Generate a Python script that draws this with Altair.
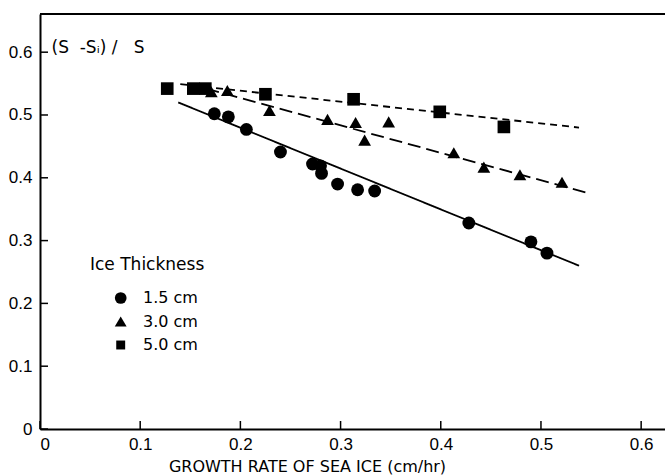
import altair as alt
import pandas as pd

TICK_FONT = "Liberation Sans, DejaVu Sans"
TEXT_FONT = "DejaVu Sans"

# Ice thickness groups and their symbols
series_labels = ["1.5 cm", "3.0 cm", "5.0 cm"]
series_shapes = ["circle", "triangle-up", "square"]

# Measured points: growth rate (cm/hr) vs (S - Si)/S
rate_15 = [0.174, 0.188, 0.206, 0.240, 0.272, 0.280, 0.281, 0.297, 0.317, 0.334, 0.428, 0.490, 0.506]
ratio_15 = [0.502, 0.497, 0.477, 0.441, 0.422, 0.419, 0.407, 0.390, 0.381, 0.379, 0.328, 0.298, 0.280]

rate_30 = [0.171, 0.187, 0.229, 0.287, 0.315, 0.324, 0.348, 0.413, 0.443, 0.479, 0.521]
ratio_30 = [0.537, 0.539, 0.507, 0.493, 0.488, 0.460, 0.489, 0.440, 0.417, 0.405, 0.393]

rate_50 = [0.127, 0.153, 0.165, 0.225, 0.313, 0.399, 0.463]
ratio_50 = [0.542, 0.542, 0.542, 0.533, 0.525, 0.505, 0.481]

# Fitted straight lines (start / end points)
fit_rate_15 = [0.138, 0.538]
fit_ratio_15 = [0.520, 0.260]
fit_rate_30 = [0.166, 0.546]
fit_ratio_30 = [0.542, 0.376]
fit_rate_50 = [0.140, 0.538]
fit_ratio_50 = [0.549, 0.480]

x_ticks = [0, 0.1, 0.2, 0.3, 0.4, 0.5, 0.6]
y_ticks = [0, 0.1, 0.2, 0.3, 0.4, 0.5, 0.6]

X_MAX = 0.6238
Y_MAX = 0.6608
W, H = 625, 415


def group(rates, ratios, label):
    return pd.DataFrame({"rate": rates, "ratio": ratios, "thickness": label, "grp": label})


points = pd.concat([
    group(rate_15, ratio_15, series_labels[0]),
    group(rate_30, ratio_30, series_labels[1]),
    group(rate_50, ratio_50, series_labels[2]),
], ignore_index=True)

fits = pd.concat([
    group(fit_rate_15, fit_ratio_15, series_labels[0]),
    group(fit_rate_30, fit_ratio_30, series_labels[1]),
    group(fit_rate_50, fit_ratio_50, series_labels[2]),
], ignore_index=True)

x_scale = alt.Scale(domain=[0, X_MAX], nice=False)
y_scale = alt.Scale(domain=[0, Y_MAX], nice=False)

x_axis = alt.Axis(
    values=x_ticks, format=".1~f", ticks=False, tickSize=0, grid=False,
    domainColor="black", domainWidth=2, labelFont=TICK_FONT, labelFontSize=17,
    labelColor="black", labelPadding=7,
    title="GROWTH RATE OF SEA ICE (cm/hr)", titleFont=TEXT_FONT, titleFontSize=16,
    titleFontWeight="normal", titleColor="black", titleX=267, titleY=37,
    titleAlign="center", titleBaseline="middle",
)
y_axis = alt.Axis(
    values=y_ticks, format=".1~f", ticks=False, tickSize=0, grid=False,
    domainColor="black", domainWidth=2, labelFont=TICK_FONT, labelFontSize=17,
    labelColor="black", labelPadding=8,
    title="(S\u00a0\u00a0-S\u1d62)\u00a0/\u00a0\u00a0\u00a0S", titleFont=TEXT_FONT,
    titleFontSize=17, titleFontWeight="normal", titleColor="black", titleAngle=0,
    titleX=11, titleY=33, titleAlign="left", titleBaseline="middle",
)

lines = alt.Chart(fits).mark_line(color="black", strokeWidth=1.8).encode(
    x=alt.X("rate:Q", scale=x_scale, axis=x_axis),
    y=alt.Y("ratio:Q", scale=y_scale, axis=y_axis),
    detail="thickness:N",
    strokeDash=alt.StrokeDash(
        "grp:N",
        scale=alt.Scale(domain=series_labels, range=[[1, 0], [13, 6], [7, 5]]),
        legend=None,
    ),
)

dots = alt.Chart(points).mark_point(filled=True, color="black", opacity=1).encode(
    x=alt.X("rate:Q", scale=x_scale),
    y=alt.Y("ratio:Q", scale=y_scale),
    shape=alt.Shape(
        "thickness:N",
        scale=alt.Scale(domain=series_labels, range=series_shapes),
        legend=None,
    ),
    size=alt.Size(
        "grp:N",
        scale=alt.Scale(domain=series_labels, range=[165, 160, 95]),
        legend=None,
    ),
)

# Inward tick marks on the bottom and left axes
x_tick_marks = alt.Chart(pd.DataFrame({"t": x_ticks})).mark_rule(
    color="black", strokeWidth=1.5
).encode(x=alt.X("t:Q", scale=x_scale), y=alt.value(H - 8), y2=alt.value(H))

y_tick_marks = alt.Chart(pd.DataFrame({"t": y_ticks})).mark_rule(
    color="black", strokeWidth=1.5
).encode(y=alt.Y("t:Q", scale=y_scale), x=alt.value(0), x2=alt.value(8))

# Top border of the frame
top_edge = alt.Chart(pd.DataFrame({"edge": [0]})).mark_rule(
    color="black", strokeWidth=2
).encode(y=alt.value(0), x=alt.value(0), x2=alt.value(W))

# Key inside the plot: title, then one symbol + label per thickness
one_row = pd.DataFrame({"k": [0]})
legend_layers = [
    alt.Chart(one_row).mark_text(
        font=TEXT_FONT, fontSize=17, color="black", align="left", baseline="middle"
    ).encode(x=alt.value(50), y=alt.value(251), text=alt.value("Ice Thickness"))
]
legend_sizes = [137, 140, 80]
for i, (label, shape) in enumerate(zip(series_labels, series_shapes)):
    row_y = 284 + i * 23.5
    legend_layers.append(
        alt.Chart(one_row).mark_point(filled=True, color="black", opacity=1).encode(
            x=alt.value(80.7), y=alt.value(row_y),
            shape=alt.value(shape), size=alt.value(legend_sizes[i]),
        )
    )
    legend_layers.append(
        alt.Chart(one_row).mark_text(
            font=TEXT_FONT, fontSize=16, color="black", align="left", baseline="middle"
        ).encode(x=alt.value(103), y=alt.value(row_y), text=alt.value(label))
    )

chart = alt.layer(
    lines, dots, x_tick_marks, y_tick_marks, top_edge, *legend_layers
).properties(
    width=W, height=H,
    autosize=alt.AutoSizeParams(type="none"),
    padding={"left": 40, "top": 14, "right": 0, "bottom": 47},
).configure_view(stroke=None).configure(background="white")

chart.save("out.html", embed_options={"renderer": "svg", "actions": False})
